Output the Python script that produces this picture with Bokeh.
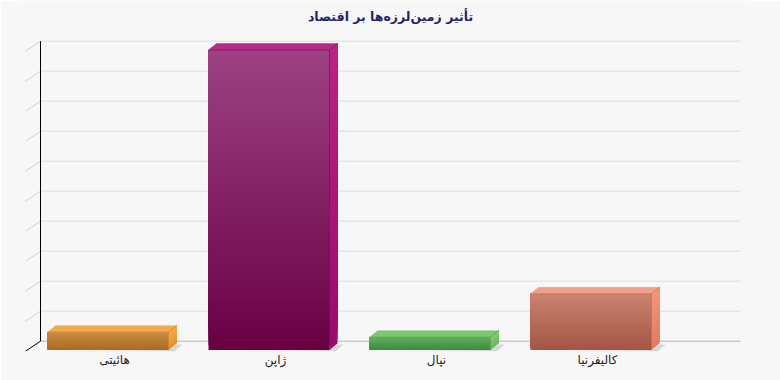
import numpy as np
from bokeh.plotting import figure
from bokeh.models import Range1d, FixedTicker, Label
from bokeh.embed import file_html
from bokeh.resources import INLINE

# ---------------- data ----------------
title_text = "تأثیر زمین\u200cلرزه\u200cها بر اقتصاد"
categories = ["هائیتی", "ژاپن", "نپال", "کالیفرنیا"]
values = [14, 235, 10, 44]          # estimated economic impact
axis_max = 235
n_div = 10

# colours per bar
front_top = ["#c98c46", "#9e4182", "#64ae62", "#c9846f"]
front_bot = ["#ad6a22", "#690044", "#3e893f", "#a45543"]
top_face = ["#f2aa4e", "#b42c88", "#7bc770", "#f0a088"]
side_top = ["#f5ac4d", "#bb2384", "#88cf78", "#f39679"]
side_bot = ["#e3902f", "#9a0b6b", "#68b55d", "#e47c61"]

# ---------------- layout constants (pixels) ----------------
W, H = 780, 380
CAT0_PX, CAT_PX = 114.0, 161.0
ZERO_PX, TOP_PX = 349.5, 49.5
KY = (ZERO_PX - TOP_PX) / axis_max
FL, FR, FT, FB = 20, 750, 0, 351
BAR_W_PX = 121.0
BAR_SHIFT_PX = -6.5
DEPTH_X_PX, DEPTH_Y_PX = 8.0, 6.5
BACK_X_PX, BACK_Y_PX = 15.0, 8.8
TITLE_Y_PX = 16


def dx(px):
    return px / CAT_PX


def dy(px):
    return px / KY


def X(px):
    return (px - CAT0_PX) / CAT_PX


def hex2rgb(h):
    h = h.lstrip("#")
    return np.array([int(h[i:i + 2], 16) for i in (0, 2, 4)], dtype=float)


def mix(c0, c1, t):
    a, b = hex2rgb(c0), hex2rgb(c1)
    c = a + (b - a) * t
    return "#%02x%02x%02x" % tuple(int(round(v)) for v in c)


BG = "#f7f7f7"
p = figure(width=W, height=H, output_backend="svg", toolbar_location=None,
           x_range=Range1d((FL - CAT0_PX) / CAT_PX, (FR - CAT0_PX) / CAT_PX),
           y_range=Range1d(-(FB - ZERO_PX) / KY, (ZERO_PX - FT) / KY),
           min_border_left=FL, min_border_right=W - FR,
           min_border_top=FT, min_border_bottom=H - FB,
           background_fill_color=BG, border_fill_color=BG,
           outline_line_color=None)
p.grid.visible = False
p.yaxis.visible = False

# screen units are measured from the frame's bottom-left corner
title = Label(x=W / 2 - FL, y=FB - TITLE_Y_PX, x_units="screen", y_units="screen",
              text=title_text, text_align="center", text_baseline="middle",
              text_font="DejaVu Sans", text_font_size="12.5px",
              text_font_style="bold", text_color="#24246a")
p.add_layout(title)

xa = p.xaxis[0]
xa.ticker = FixedTicker(ticks=list(range(len(categories))))
xa.major_label_overrides = {i: c for i, c in enumerate(categories)}
xa.axis_line_color = None
xa.major_tick_line_color = None
xa.minor_tick_line_color = None
xa.major_tick_out = 0
xa.major_tick_in = 0
xa.minor_tick_out = 0
xa.minor_tick_in = 0
xa.major_label_standoff = 1
xa.major_label_text_font = "DejaVu Sans"
xa.major_label_text_font_size = "12px"
xa.major_label_text_color = "#222222"

# ---------------- back wall grid ----------------
grid_vals = np.linspace(0, axis_max, n_div + 1)
gy = grid_vals + dy(BACK_Y_PX)
gcol = ["#b4b4b4"] + ["#dcdcdc"] * n_div
p.segment(x0=[X(40)] * len(gy), y0=gy, x1=[X(740)] * len(gy), y1=gy,
          line_color=gcol, line_width=1)

# left wall ticks (diagonals)
dcol = ["#000000"] + ["#d2d2d2"] * n_div
p.segment(x0=[X(40)] * len(gy), y0=gy, x1=[X(40 - BACK_X_PX)] * len(gy),
          y1=grid_vals - dy(1.2), line_color=dcol, line_width=1)
# left wall vertical line
p.segment(x0=[X(40)], y0=[gy[0]], x1=[X(40)], y1=[gy[-1]],
          line_color="#000000", line_width=1)

# ---------------- bars ----------------
N = 60
for i, v in enumerate(values):
    L = i + dx(BAR_SHIFT_PX) - dx(BAR_W_PX) / 2
    R = L + dx(BAR_W_PX)
    DX, DY = dx(DEPTH_X_PX), dy(DEPTH_Y_PX)

    # floor shadow
    p.patch([L - dx(6), R + dx(6), R + DX + dx(6), R + DX, R],
            [-dy(1.6), -dy(1.6), DY - dy(1), DY - dy(1), 0],
            fill_color="#d6d6d6", line_color=None)

    edges = np.linspace(0, v, N + 1)
    # front face: overlapping strips (each reaches the top) -> no seams
    cols = [mix(front_bot[i], front_top[i], k / (N - 1)) for k in range(N)]
    p.quad(left=[L] * N, right=[R] * N, bottom=edges[:-1], top=[v] * N,
           fill_color=cols, line_color=None)
    # side face
    scols = [mix(side_bot[i], side_top[i], k / (N - 1)) for k in range(N)]
    xs = [[R, R + DX, R + DX, R] for _ in range(N)]
    ys = [[edges[k], edges[k] + DY, v + DY, v] for k in range(N)]
    p.patches(xs, ys, fill_color=scols, line_color=None)
    # top face
    p.patch([L, R, R + DX, L + DX], [v, v, v + DY, v + DY],
            fill_color=top_face[i], line_color=top_face[i], line_width=0.5)
    # thin edges
    p.line([L, R, R + DX], [v, v, v + DY], line_color=front_bot[i],
           line_alpha=0.45, line_width=1)
    p.line([R, R], [0, v], line_color=front_bot[i], line_alpha=0.45, line_width=1)

open("out.html", "w").write(file_html(p, INLINE))
